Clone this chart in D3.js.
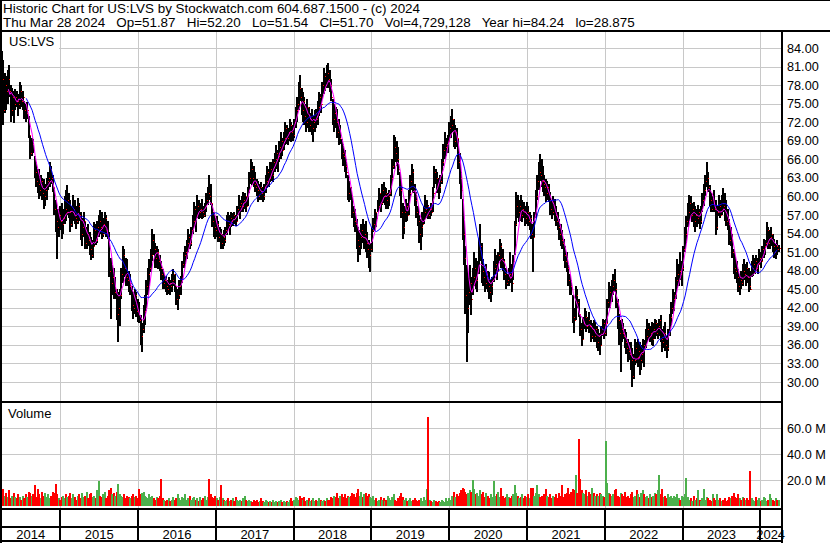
<!DOCTYPE html>
<html>
<head>
<meta charset="utf-8">
<script src="https://cdn.jsdelivr.net/npm/d3@7"></script>
<style>
body { margin: 0; background: #fff; }
svg text { font-family: Arial, "Liberation Sans", sans-serif; font-size: 13px; fill: #000; }
</style>
</head>
<body>
<svg id="chart" width="830" height="543"></svg>
<script>
// weekly bars, first week starts Fri Mar 28 2014
var weekHigh = [
83.5,82,80,79.5,80.5,81.2,78,77.5,77,77.4, 77,76.5,78.5,78,77,75.5,75,75.3,73,70,
69.5,69.3,66.5,65.5,64.5,64.5,63.5,63,62.9,62, 63,64,65.6,65,63.5,61.5,59.5,58,58,58.5,
59,58,60,61,61.8,60.5,59.5,58.5,60.2,59.5, 58.5,59.8,59,57.5,56.5,57.5,56,55,55.5,54.2,
53.5,53,55.8,55.5,56,57,57.8,57.5,56.5,57.5, 57,56,54.2,50,48.9,48.5,47,45,44.6,45,
48.5,52,51.5,50,49.9,48,47.5,45.6,44.5,45, 44.6,43.5,43,40.8,39.5,42.5,44,46.5,48.5,49.9,
51.5,54.8,54,52.5,52,51.5,50.5,49.5,48.3,47.5, 47.2,46.5,47,46.5,47.5,48.3,47.5,45.6,45,46.5,
47.2,49.5,51,52,53,54.8,54,55,57,59.1, 58.5,60.2,59.5,59,59.6,58.5,59,60.5,61.5,63.4,
62,59,57.5,56.5,56.9,56,55,54.8,54,54.5, 55,57,57.5,57,57.5,57.3,57.5,57,58.5,60.2,
59.5,60,60.7,60.5,60,61.5,64,66.1,65.5,65, 64,62.9,62.5,62,62.3,61.5,62,63.5,65,64.5,
65.6,65.5,66,67,68.3,67.5,69,70.4,69.5,70.5, 72,71.5,71,72.6,72,71.5,72.5,74.5,76,78.5,
79.6,77.5,76.9,76,75,75.8,74.5,73.5,74.2,73, 74,74.2,75.5,76.9,76.5,78.5,80.7,80,81.2,81.5,
80.5,79,75.8,75,74.5,74.2,72.5,71.5,69.3,68.5, 67.5,66,63.4,62.5,61.5,60.2,58.5,58,56.4,55,
54.5,55.5,56.4,55.5,56,54.2,53,52.5,55,56.5, 58,57.5,59.5,61.3,60.5,62,62.3,61.5,61.3,60.5,
61,63.5,66,69.9,69.6,69,68,64,62.3,59, 58.5,59.6,59,61,63.5,65.3,64.5,62,60.7,58.5,
57,56.4,57.5,58.5,60.2,59.5,58.6,58.3,59,61.5, 65,64.5,63.9,63,63.5,66,68.5,70.4,69.5,70,
72,73,74.2,72.5,71.5,71,69.3,67,64,59.6, 56,52,48.9,47.5,48.9,47,48.5,51,50,49.5,
53.2,55.6,52.5,49.9,48.5,49,48,47.8,46.5,47, 49.5,51.5,50.5,51,53.2,52.5,51.5,49.9,48.5,47.5,
48.5,51,49,50.5,56,60.7,60.2,59.5,60.2,59.5, 59.1,58.5,59.1,58.5,57.5,57,55.5,57.5,61,63.5,
65.6,66.9,66.1,65,63.5,62.9,62.5,62,60.7,59.5, 60,59.6,58.5,57.5,56.4,55.5,54.5,53.2,52,51,
48.9,47.5,46.5,44,42,45.6,45,43.5,40.8,39.5, 40.5,41.9,41.5,40.5,41.3,40,39.5,40,39.7,39,
38.5,38,39,40.2,40,40.2,43.5,46.1,45.5,46.5, 47.5,48.3,46,43.5,41,40,40.2,39.5,38.5,38.1,
37,36.5,36.5,35.5,34.5,37,36.5,37,36.5,36, 37,36.8,38.5,40.2,39.5,39,39.7,39.5,40.2,40,
39.5,40.2,40.8,38.5,39,39.7,37.5,38.5,41,43, 45.1,44.5,47,49.9,49,51,49.5,52,55,56.9,
59,60.2,60,59,59.1,58.5,58,58.6,58,58.5, 60.5,62,63.5,65.6,64,61.8,60.5,60,61,59.5,
58.5,60.2,59.5,60.2,61.3,60.5,59.5,58,56.4,55, 54,51.5,50.5,49.5,48.3,47.5,48,49,49.9,49,
49.4,48.5,48,49.5,50.5,50,50.5,50,51.5,51, 52,53.2,53,55.9,55,54.5,55,54,53.2,52.5,
53,52.2];
var weekLow = [
76,71.5,73.5,74,75,76,72,73,71.8,74, 74.5,73,74.2,74.5,74,72.5,72,72.5,69.5,66,
66.5,67,63,61.5,60.5,59.6,60,59.5,58,58.5, 59.5,61,61.5,62,60.7,57,54.2,49.9,53.5,54.5,
53.2,54,55.5,56,57,56.5,54.2,55,56,55.5, 54.8,55.5,56,53,52,53.5,51.5,51.5,52,50.5,
49.7,50,52,52.1,52.5,53.5,54,53.2,53.5,54, 53.5,53.2,47,40.2,44,43.5,43.5,40,36.5,39,
43.5,46,47,45.6,45.5,44.6,44,41.5,40.2,41, 40.5,39.7,39.5,36,34.9,38,39.2,41.5,44,45.5,
47.8,49.5,50.5,48.5,48.5,48.3,48,46.5,45.1,45, 44.5,44,44.2,44,44.6,45.5,44.6,42.5,41.6,43.5,
44,46,48.5,49,49.9,51,51.5,52,54,55, 54.2,56.5,56.4,56.5,56.4,56.5,56.6,57.5,58.6,59.5,
58.6,55,53.5,53.2,53.5,52.6,52.6,51.5,51.5,52, 52.5,53.7,54.5,53.7,55,55.3,55.5,55.3,55.8,57,
56.4,57.5,57.5,58,57.5,58.5,60.5,62,61.8,61.5, 60.7,60,59.1,59.5,59.5,59.1,59.5,60.5,61.3,61.5,
62.3,62.5,62.3,64,64.5,64,65.5,66.1,66.5,67.5, 68.3,68.5,68.3,69,68.8,69,69.5,71,72,74,
75.5,73.1,72,71.5,70.5,71,70.4,70.5,70,68.8, 70.5,71,71.5,73,73.5,75.8,76.5,77,77.5,77.5,
76.9,75.5,71.5,70.4,71,69.5,68.3,68.5,66,65, 64,63,59.5,59.1,59.5,56.5,55,54.2,51.5,49.4,
50.5,51.5,52.5,51.5,51,50,48.5,47.8,51,54.2, 54.5,55,57.5,58,57.5,58.6,59,58.6,58,58,
58.5,60,62.3,64.5,65.5,65,63.5,60,56.5,53.2, 54,55.9,56,57,59.6,61,60.5,58.5,56.5,55.3,
52.5,51.3,53.5,55.5,56.4,56.5,56.4,56.4,56.8,57.5, 61.3,62,60.5,59.6,60.5,62,65,66.1,66.5,67,
68.8,69.5,70.5,68,67.7,68,64.5,62,59.6,53, 48.9,41,33.2,38,42.5,40.8,44,45.5,45,44.5,
47.5,49.5,46,45.6,44.6,45,44.6,43.5,42.9,44, 46.1,47.5,46.5,47.8,49.5,48.5,48,46.5,45.1,45.5,
45.5,46,44.6,46.5,50.5,55.3,56.5,55.8,56,55.9, 56.5,55.3,55.5,55.3,54.5,53.2,47.8,53.5,56.5,59.5,
61,62.5,61.5,60.7,60,59.1,59.5,59.1,57,56.4, 57,56,55.3,54.5,53,52,51.5,49.5,48.5,47.8,
45.5,44,44,39.5,38,40,41.9,40.5,37.5,35.9, 37,38.5,38.1,38.5,38,36.5,37,36.5,36.5,35.5,
35,34.3,36,37.5,37,37.5,39.5,42,41.9,43, 44,44.5,42,38.5,36,31.6,36.5,37,35.5,34.5,
33.2,33.5,32,29.2,30.5,32.7,33,32.5,31.2,32, 33,32.5,35.5,36.5,36.8,36.5,36,35.9,37,37.5,
37,37.5,36.5,34.9,35.5,35,33.8,35,37.5,39.2, 41,41.5,43.5,45,45.5,46.5,45.6,48,51,52.5,
55,56,56.5,55.9,55,54.2,55,55.5,54.8,55.5, 57.5,58.5,60,61.5,60.7,58.5,57.5,57.5,57.5,53.7,
54.5,56.9,56.5,57,57.5,56,55.3,54.5,52.1,52, 50,47.5,46.7,46,44.5,44,45,45.5,46.5,45.6,
46,44.6,44.8,47,47.2,47.5,48,47.5,48.9,48.5, 49.4,50,50.5,52,51.5,51.5,52,51,50,49.9,
50.5,51];
var weekClose = [
79,74,78,77,79,77,74,76,75,76, 75.5,75,77,75.5,76,74,73.5,74,70,67,
68.5,67.5,64,62.5,62,61,62.5,60.5,60,61, 62.5,63,64.5,63,61.5,58,56,55,57,56,
55.5,56.5,58,57.5,59.5,57.5,55.5,57.5,58,56.5, 56,58.5,57,54,55,56,52.5,54,53,51.5,
50.5,52,54.5,53,55,56,55,54,55.5,56.5, 54.5,53.5,48,46,47,44.5,45,41,42,44,
47.5,50.5,48.5,47,46.5,45.5,46,42.5,42,44, 41.5,41,40,37.5,38.5,41.5,42,45.5,47.5,48.5,
50.5,53,51.5,50,51,49.5,48.5,47.5,46,46.5, 45.5,45,46,45.5,46.5,47.5,45.5,43.5,44,45.5,
46.5,49,50.5,51,52.5,53.5,52.5,54.5,56,58, 57,58.5,57.5,58,57.5,57,58.5,59.5,60.5,60,
59,56,55,54.5,55.5,53.5,54,52.5,53.5,53, 54.5,56,55.5,56.5,56,57,56.5,56,58,58.5,
59,58.5,59.5,60,58.5,61,63,64.5,63,62, 61.5,61,60,61.5,60.5,60,61.5,62.5,64,63,
64.5,63.5,65.5,66,67,66.5,68,69,67.5,69.5, 71,69.5,70.5,71.5,70.5,70,72,74,75,77.5,
76,74,75.5,73,72,74.5,71.5,72.5,71,72, 73.5,72.5,74.5,76,75,78,79.5,78,80,79,
78,76,72.5,73.5,72,70.5,69.5,70,67,66.5, 65,64,60.5,61.5,60,57.5,56,55.5,53,52,
53.5,54.5,53.5,54,52.5,51.5,50.5,51.5,54.5,55.5, 57.5,56.5,58.5,60.5,59,61,60,60.5,59.5,60,
60.5,63,65,68,67,66,64.5,61,57.5,55, 57.5,58.5,57,60.5,62.5,64,61.5,59.5,57.5,56,
54,55,55.5,57.5,58,58.5,57,58,57.5,60.5, 64,63,62,61.5,62.5,65.5,67.5,68,68.5,69,
71,71.5,72.5,69,70.5,69.5,65.5,63,61,54, 50,44,42,44.5,46,43.5,47,48.5,46.5,48,
51.5,52,48,47,46,47.5,45.5,44.5,45.5,46.5, 48.5,49,48,50.5,52,50,49.5,47.5,46,46.5,
47.5,47,46,49.5,55.5,58.5,57.5,58.5,57,58, 57.5,56.5,57.5,56,56.5,54,53.5,57,60,62.5,
64,63.5,62.5,62,61.5,60.5,61.5,59.5,58,57.5, 58.5,57,56,55,54,53,52.5,50.5,49.5,48.5,
46.5,45.5,45,40.5,40,44,43,41,38.5,37, 39.5,40.5,39,40,39,37.5,38.5,37.5,38.5,36.5,
37.5,36,38.5,39.5,38,39.5,43,44.5,43.5,45.5, 46.5,45,43,40,38,38.5,38,37.5,36.5,35.5,
35,34.5,33.5,31,33.5,35.5,34,35,33.5,34.5, 36,35.5,37.5,38.5,37.5,38,37,38.5,39.5,38,
39,40,37,36.5,38,36,35.5,38,40.5,42, 43.5,44,46.5,47.5,48,47.5,48.5,51.5,54,56,
57.5,59,57,58,56,57,56.5,57.5,56,58, 59.5,61,62.5,63,61.5,59.5,58,59,58,55,
57.5,58.5,57,59,58.5,57.5,56,55.5,53,53.5, 51,48.5,48,47,45.5,46.5,46,48,47.5,48.5,
47,45.5,45,48.5,49,49.5,48.5,49,50,49.5, 51.5,52,52.5,54.5,52.5,53.5,54,52,51,52,
51.5,51.7];
// representative daily volume in each week, millions of shares
var weekVolume = [
9,13,8,10,7,12,6,8,10,7, 6,9,7,5,8,6,9,7,11,10,
8,9,16,7,13,9,6,11,8,10, 7,9,6,8,11,10,17,9,6,5,
7,8,6,9,7,8,10,6,9,7, 5,8,9,6,10,7,8,11,6,9,
10,7,8,6,12,19,8,7,9,11, 6,8,12,14,9,10,8,11,17,9,
8,7,9,6,8,7,6,8,9,7, 8,6,13,9,10,11,8,7,6,9,
7,8,6,5,7,6,8,21,6,5, 4,5,6,4,5,7,5,6,9,6,
5,7,6,9,5,6,8,5,6,7, 5,6,4,7,5,6,8,5,7,21,
9,7,6,8,6,5,7,16,6,5, 4,5,6,4,5,6,4,7,5,4,
5,4,6,8,5,4,5,4,3,5, 4,5,3,4,6,4,3,5,4,3,
4,3,5,3,4,3,4,5,3,4, 3,4,3,5,6,4,5,7,6,5,
8,6,5,7,4,5,6,4,5,6, 4,5,4,6,5,4,5,4,6,5,
5,7,6,8,7,10,6,8,9,7, 9,6,8,7,8,10,9,7,10,13,
8,11,7,9,10,8,9,7,6,8, 5,6,4,5,7,5,6,4,5,8,
6,5,7,9,5,4,6,8,10,7, 5,6,4,5,6,4,5,6,5,4,
5,6,4,7,5,13,69,5,4,3, 5,4,3,4,3,5,4,3,6,4,
6,5,8,11,7,9,8,10,12,14, 13,11,9,10,12,11,20,13,9,10,
8,12,9,11,7,10,8,6,9,7, 19,8,9,11,7,14,8,6,7,9,
7,6,8,9,16,10,8,6,7,9, 6,8,7,9,6,14,14,8,10,16,
9,7,8,7,9,13,8,7,9,6, 8,7,9,6,10,8,16,7,9,10,
14,9,11,13,12,24,10,52,21,12, 10,9,12,8,11,9,14,10,8,9,
8,10,9,8,7,50,18,10,9,8, 9,12,13,8,7,10,9,8,11,7,
8,6,9,11,7,8,12,9,7,10, 12,9,7,8,6,9,7,8,10,9,
12,24,9,13,7,8,6,9,7,8, 6,8,7,9,6,5,8,7,9,22,
7,5,6,4,8,5,6,12,5,4, 6,13,5,7,6,5,4,9,6,5,
9,5,6,4,5,6,4,5,7,6, 8,10,7,6,9,6,5,7,6,5,
6,5,27,6,5,4,7,5,6,4, 5,7,6,4,5,9,6,5,4,6,
5,5];

var priceTicks = [30, 33, 36, 39, 42, 45, 48, 51, 54, 57, 60, 63, 66, 69, 72, 75, 78, 81, 84];
var volumeTicks = [20, 40, 60];
var yearLabels = ["2014", "2015", "2016", "2017", "2018", "2019", "2020", "2021", "2022", "2023", "2024"];
var headerLines = [
    "Historic Chart for US:LVS by Stockwatch.com 604.687.1500 - (c) 2024",
    "Thu Mar 28 2024   Op=51.87   Hi=52.20   Lo=51.54   Cl=51.70   Vol=4,729,128   Year hi=84.24   lo=28.875"
];
var fastPeriod = 6, slowPeriod = 18; // weeks

var svg = d3.select("#chart"),
    plotLeft = 1,
    plotRight = 781,
    gridColor = "#c8c8c8",
    upColor = "#4cb04c",
    downColor = "#ff0000";

var firstWeek = new Date(2014, 2, 28),
    lastDay = new Date(2024, 2, 28);
var weeks = weekClose.map(function(d, i) { return d3.timeDay.offset(firstWeek, 7 * i); });

var x = d3.scaleTime().domain([firstWeek, lastDay]).range([0.9, 778.8]);
var yPrice = d3.scaleLinear().domain([30, 84]).range([382, 48]);
var yVol = d3.scaleLinear().domain([0, 60]).range([506, 428.3]);

var yearStarts = yearLabels.slice(1).map(function(y) { return x(new Date(+y, 0, 1)); });
var yearEdges = [plotLeft].concat(yearStarts, [plotRight]);

function px(v) { return Math.round(v) + 0.5; }

// grid lines
var grid = svg.append("g").attr("stroke", gridColor).attr("stroke-width", 1);
grid.selectAll(".pg").data(priceTicks).enter().append("line")
    .attr("x1", plotLeft).attr("x2", plotRight)
    .attr("y1", function(d) { return px(yPrice(d)); })
    .attr("y2", function(d) { return px(yPrice(d)); });
grid.selectAll(".vg").data(volumeTicks).enter().append("line")
    .attr("x1", plotLeft).attr("x2", plotRight)
    .attr("y1", function(d) { return px(yVol(d)); })
    .attr("y2", function(d) { return px(yVol(d)); });
grid.selectAll(".yg").data(yearStarts).enter().append("line")
    .attr("x1", px).attr("x2", px)
    .attr("y1", 32).attr("y2", 509);

// volume bars, coloured by weekly change
svg.append("g").selectAll("rect").data(weekVolume).enter().append("rect")
    .attr("x", function(d, i) { return Math.round(x(weeks[i])); })
    .attr("y", function(d) { return Math.round(yVol(d)); })
    .attr("width", 2)
    .attr("height", function(d) { return Math.round(yVol(0)) - Math.round(yVol(d)); })
    .attr("fill", function(d, i) { return (i > 0 && weekClose[i] < weekClose[i - 1]) ? downColor : upColor; })
    .attr("shape-rendering", "crispEdges");

// price bars (high-low), close marked in red
var bars = svg.append("g").attr("shape-rendering", "crispEdges");
bars.selectAll(".hl").data(weekHigh).enter().append("rect")
    .attr("x", function(d, i) { return Math.round(x(weeks[i])); })
    .attr("y", function(d) { return Math.round(yPrice(d)); })
    .attr("width", 2)
    .attr("height", function(d, i) { return Math.max(1, Math.round(yPrice(weekLow[i])) - Math.round(yPrice(d))); })
    .attr("fill", "#000");
bars.selectAll(".cl").data(weekClose).enter().append("rect")
    .attr("x", function(d, i) { return Math.round(x(weeks[i])) + 2; })
    .attr("y", function(d) { return Math.round(yPrice(d)); })
    .attr("width", 1).attr("height", 1)
    .attr("fill", downColor);

// moving averages of the weekly closes
function movingAverage(n) {
    var out = [];
    for (var i = n - 1; i < weekClose.length; i += 1) {
        out.push({date: weeks[i], value: d3.mean(weekClose.slice(i - n + 1, i + 1))});
    }
    return out;
}
var maLine = d3.line()
    .x(function(d) { return x(d.date); })
    .y(function(d) { return yPrice(d.value); });
svg.append("path").datum(movingAverage(fastPeriod))
    .attr("d", maLine).attr("fill", "none").attr("stroke", "#ff00ff").attr("stroke-width", 1);
svg.append("path").datum(movingAverage(slowPeriod))
    .attr("d", maLine).attr("fill", "none").attr("stroke", "#0000ff").attr("stroke-width", 1);

// symbol box and panel captions
svg.append("rect").attr("x", 2).attr("y", 32).attr("width", 57).attr("height", 19).attr("fill", "#fff");
svg.append("text").attr("x", 9).attr("y", 46).text("US:LVS");
svg.append("text").attr("x", 8).attr("y", 418).text("Volume");

// header: size the font so the first line ends where the original does (x = 420)
var header = svg.append("g").selectAll("text").data(headerLines).enter().append("text")
    .attr("x", 3)
    .attr("y", function(d, i) { return 13 + i * 14; })
    .style("font-size", "13px")
    .style("white-space", "pre")
    .text(function(d) { return d; });
var firstWidth = header.node().getComputedTextLength();
if (firstWidth > 0) {
    header.style("font-size", (13 * 417 / firstWidth).toFixed(2) + "px");
}

// frame
var frame = svg.append("g").attr("fill", "#000").attr("shape-rendering", "crispEdges");
frame.append("rect").attr("x", 0).attr("y", 0).attr("width", 830).attr("height", 1);
frame.append("rect").attr("x", 0).attr("y", 30).attr("width", 830).attr("height", 2);
frame.append("rect").attr("x", 0).attr("y", 0).attr("width", 2).attr("height", 543);
frame.append("rect").attr("x", 781).attr("y", 30).attr("width", 2).attr("height", 513);
frame.append("rect").attr("x", 0).attr("y", 401).attr("width", 783).attr("height", 2);
frame.append("rect").attr("x", 0).attr("y", 508).attr("width", 783).attr("height", 2);
frame.append("rect").attr("x", 0).attr("y", 526).attr("width", 783).attr("height", 2);
frame.append("rect").attr("x", 0).attr("y", 540).attr("width", 783).attr("height", 2);
frame.selectAll(".sep").data(yearStarts).enter().append("rect")
    .attr("x", function(d) { return Math.round(d) - 1; })
    .attr("y", 510).attr("width", 2).attr("height", 31);

// year labels centred in each year
svg.append("g").selectAll("text").data(yearLabels).enter().append("text")
    .attr("x", function(d, i) { return (yearEdges[i] + yearEdges[i + 1]) / 2; })
    .attr("y", 539)
    .attr("text-anchor", "middle")
    .text(function(d) { return d; });

// right-hand axes
var priceAxis = d3.axisRight(yPrice).tickValues(priceTicks).tickSize(0).tickPadding(5)
    .tickFormat(d3.format(".2f"));
var volAxis = d3.axisRight(yVol).tickValues(volumeTicks).tickSize(0).tickPadding(5)
    .tickFormat(function(d) { return d.toFixed(1) + " M"; });
[priceAxis, volAxis].forEach(function(axis) {
    svg.append("g").attr("transform", "translate(782,0)").call(axis)
        .call(function(g) { g.select(".domain").remove(); })
        .selectAll("text")
        .attr("font-size", null).attr("font-family", null)
        .style("font-size", "12.7px");
});
</script>
</body>
</html>
